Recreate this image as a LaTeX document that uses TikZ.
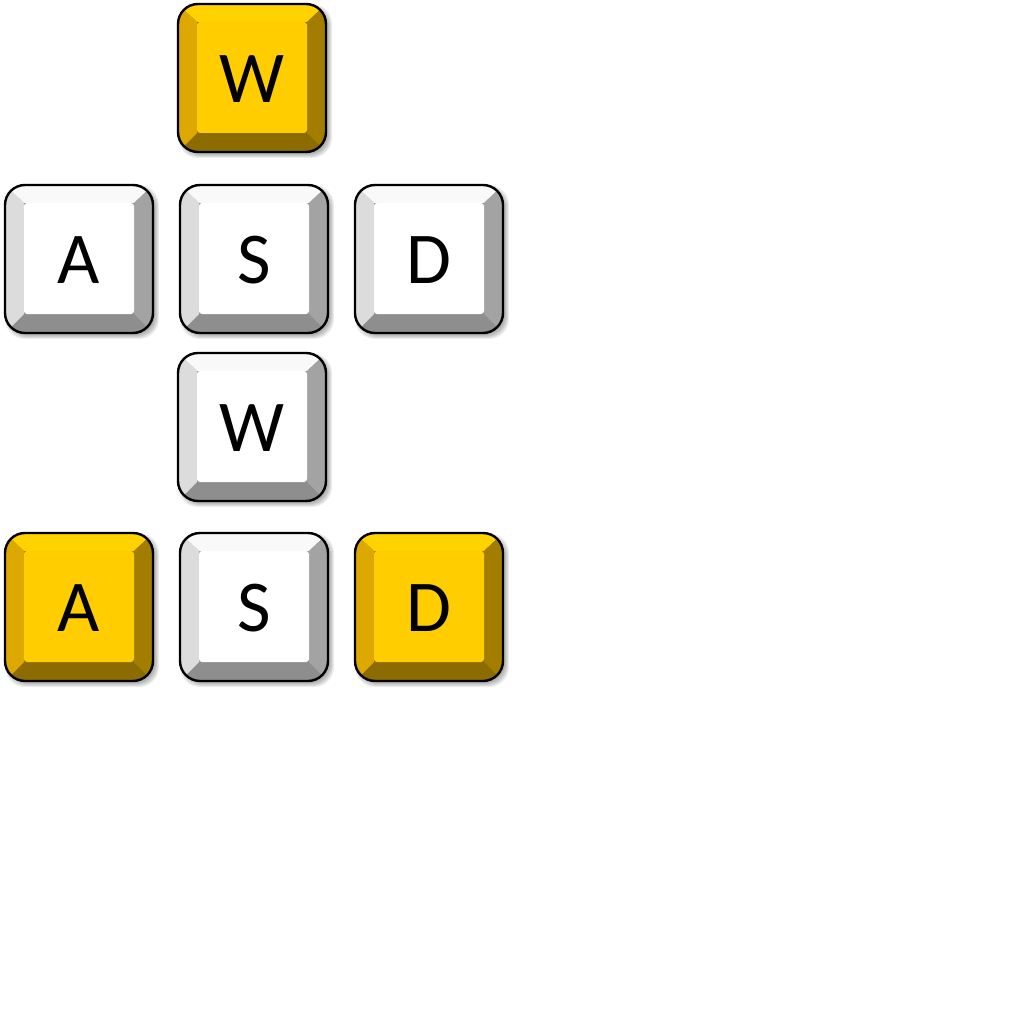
\documentclass[tikz,border=0pt]{standalone}
\usepackage{fontspec}
\setmainfont{Carlito}
\definecolor{yface}{HTML}{FFCD00}
\definecolor{ytop}{HTML}{FFD200}
\definecolor{yleft}{HTML}{DDA800}
\definecolor{yright}{HTML}{A27D00}
\definecolor{ybottom}{HTML}{8C6B00}
\definecolor{wface}{HTML}{FFFFFF}
\definecolor{wtop}{HTML}{F9F9F9}
\definecolor{wleft}{HTML}{DCDCDC}
\definecolor{wright}{HTML}{A3A3A3}
\definecolor{wbottom}{HTML}{8E8E8E}
\tikzset{
  keyoutline/.style={draw=black, line width=2.4pt, rounded corners=20pt},
  keylabel/.style={inner sep=0pt, font=\fontsize{73}{80}\selectfont, text=black},
}
% #1 name, #2 left, #3 top, #4 letter, #5 colour prefix
\newcommand\keycap[5]{%
\begin{scope}[shift={(#2,#3)}]
  \foreach \s in {0,1,2,3,4}{
    \fill[black, opacity=0.07, rounded corners=20pt] (4-\s,4-\s) rectangle (150+\s,150+\s);
  }
  \begin{scope}
    \clip[rounded corners=20pt] (0,0) rectangle (148,148);
    \fill[#5bottom] (0,0) rectangle (148,148);
    \fill[#5top] (0,0) -- (148,0) -- (129,18) -- (19,18) -- cycle;
    \fill[#5left] (0,0) -- (19,18) -- (19,129) -- (0,148) -- cycle;
    \fill[#5right] (148,0) -- (148,148) -- (129,129) -- (129,18) -- cycle;
  \end{scope}
  \fill[#5face, rounded corners=3pt] (19,18) rectangle (129,129);
  \draw[keyoutline] (0,0) rectangle (148,148);
  \node[keylabel] (#1) at (74,75) {#4};
\end{scope}}
\begin{document}
\begin{tikzpicture}[x=1pt, y={(0pt,-1pt)}]
  \useasboundingbox (0,0) rectangle (1024,1024);
  \keycap{w1}{178}{4}{W}{y}
  \keycap{a1}{5}{185}{A}{w}
  \keycap{s1}{180}{185}{S}{w}
  \keycap{d1}{355}{185}{D}{w}
  \keycap{w2}{178}{353}{W}{w}
  \keycap{a2}{5}{533}{A}{y}
  \keycap{s2}{180}{533}{S}{w}
  \keycap{d2}{355}{533}{D}{y}
\end{tikzpicture}
\end{document}
